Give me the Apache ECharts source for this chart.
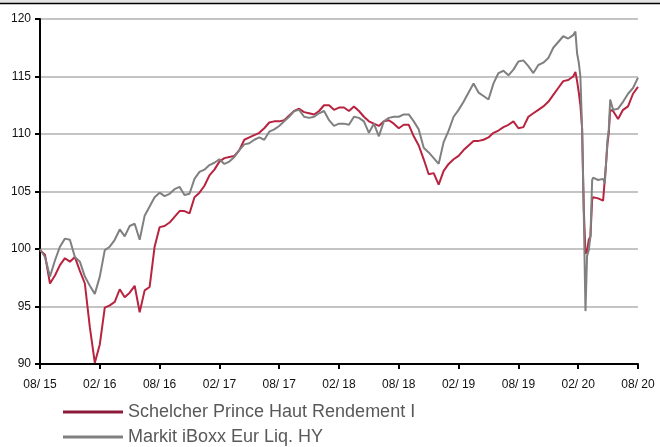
<!DOCTYPE html>
<html>
<head>
<meta charset="utf-8">
<script src="https://cdn.jsdelivr.net/npm/echarts@6/dist/echarts.min.js"></script>
<style>
html,body{margin:0;padding:0;background:#fff;}
#chart{width:660px;height:447px;}
</style>
</head>
<body>
<div id="chart"></div>
<script>
// months elapsed since 08/2015
const months = [
  0,0.5,1,1.5,2,2.5,3,3.5,4,4.5,5,5.5,6,6.5,7,7.5,8,8.5,9,9.5,
  10,10.5,11,11.5,12,12.5,13,13.5,14,14.5,15,15.5,16,16.5,17,17.5,18,18.5,19,19.5,
  20,20.5,21,21.5,22,22.5,23,23.5,24,24.5,25,25.5,26,26.5,27,27.5,28,28.5,29,29.5,
  30,30.5,31,31.5,32,32.5,33,33.5,34,34.5,35,35.5,36,36.5,37,37.5,38,38.5,39,39.5,
  40,40.5,41,41.5,42,42.5,43,43.5,44,44.5,45,45.5,46,46.5,47,47.5,48,48.5,49,49.5,
  50,50.5,51,51.5,52,52.5,53,53.5,
  53.72,53.89,54.06,54.22,54.39,54.56,54.73,54.89,55.06,55.23,55.4,
  55.5,56,56.5,56.67,56.8,56.94,57.07,57.21,57.5,58,58.5,59,59.5,60
];
const schelcher = [
  99.9,99.5,97.0,97.7,98.6,99.2,98.9,99.3,98.1,97.0,
  93.2,90.1,91.7,94.9,95.1,95.4,96.5,95.8,96.2,96.8,
  94.5,96.4,96.7,100.2,101.9,102.0,102.3,102.8,103.3,103.3,
  103.1,104.5,104.9,105.5,106.4,106.9,107.6,107.9,108.0,108.1,
  108.6,109.5,109.7,109.9,110.1,110.5,111.0,111.1,111.1,111.2,
  111.6,112.0,112.2,111.9,111.8,111.7,112.0,112.5,112.5,112.1,
  112.3,112.3,112.0,112.4,112.0,111.5,111.1,110.9,110.7,111.1,
  111.2,110.9,110.5,110.8,110.8,109.8,109.0,107.8,106.5,106.6,
  105.6,106.8,107.4,107.8,108.1,108.6,109.0,109.4,109.4,109.5,
  109.7,110.1,110.3,110.6,110.8,111.1,110.5,110.6,111.5,111.8,
  112.1,112.4,112.8,113.4,114.0,114.6,114.7,115.0,
  115.4,114.6,113.6,112.5,110.5,103.5,99.6,99.8,100.8,101.1,104.3,
  104.5,104.4,104.2,104.1,107.5,109.2,110.1,112.1,112.0,111.3,112.1,112.4,113.5,114.1
];
const iboxx = [
  100.0,99.3,97.6,99.0,100.2,100.9,100.8,99.3,98.9,97.6,
  96.8,96.1,97.6,99.9,100.2,100.8,101.7,101.1,102.0,102.2,
  100.8,102.9,103.7,104.5,104.9,104.6,104.8,105.2,105.4,104.7,
  104.8,106.1,106.7,106.9,107.3,107.5,107.8,107.4,107.6,108.0,
  108.6,109.1,109.2,109.5,109.7,109.5,110.2,110.4,110.7,111.1,
  111.5,112.0,112.1,111.5,111.4,111.5,111.8,112.0,111.2,110.7,
  110.9,110.9,110.8,111.5,111.4,111.1,110.1,110.9,109.8,111.1,
  111.4,111.5,111.5,111.7,111.7,111.1,110.4,108.8,108.4,107.9,
  107.4,109.3,110.3,111.5,112.1,112.8,113.6,114.4,113.6,113.3,
  113.0,114.4,115.3,115.5,115.1,115.6,116.3,116.4,115.9,115.3,
  116.0,116.2,116.6,117.5,118.0,118.5,118.3,118.6,
  118.9,117.0,116.2,115.0,110.5,103.0,94.6,99.4,99.9,101.1,106.0,
  106.2,106.0,106.1,105.7,107.5,109.5,110.4,113.0,112.1,112.2,112.8,113.5,114.0,114.9
];
const xTickLabels = ['08/ 15','02/ 16','08/ 16','02/ 17','08/ 17','02/ 18','08/ 18','02/ 19','08/ 19','02/ 20','08/ 20'];
const seriesNames = ['Schelcher Prince Haut Rendement I','Markit iBoxx Eur Liq. HY'];

const pair = (xs, ys) => xs.map((x, k) => [x, ys[k]]);
const FONT = "'Liberation Sans', Arial, sans-serif";

const legendBase = {
  left: 63,
  icon: 'rect',
  itemWidth: 60,
  itemHeight: 3,
  textStyle: {fontFamily: FONT, fontSize: 18, color: '#595959'},
  padding: 0
};

const chart = echarts.init(document.getElementById('chart'), null, {renderer: 'canvas'});
chart.setOption({
  animation: false,
  backgroundColor: '#ffffff',
  grid: {left: 40, right: 22, top: 19, bottom: 83},
  graphic: [
    {type: 'rect', left: 0, top: 0, shape: {width: 660, height: 3}, style: {fill: '#e4e4e4'}, silent: true},
    {type: 'line', shape: {x1: 0, y1: 3.5, x2: 660, y2: 3.5}, style: {stroke: '#000', lineWidth: 1.5}, silent: true}
  ],
  legend: [
    Object.assign({}, legendBase, {top: 403, data: [{name: seriesNames[0], itemStyle: {color: '#8c1a3a'}}]}),
    Object.assign({}, legendBase, {top: 428, data: [{name: seriesNames[1], itemStyle: {color: '#808080'}}]})
  ],
  xAxis: {
    type: 'value',
    min: 0, max: 60, interval: 6,
    axisLine: {show: true, onZero: false, lineStyle: {color: '#000', width: 2}},
    axisTick: {show: true, length: 5, lineStyle: {color: '#000', width: 2}},
    splitLine: {show: false},
    axisLabel: {
      fontFamily: FONT, fontSize: 12, color: '#111', margin: 15,
      formatter: v => xTickLabels[Math.round(v / 6)]
    }
  },
  yAxis: {
    type: 'value',
    min: 90, max: 120, interval: 5,
    axisLine: {show: true, lineStyle: {color: '#000', width: 2}},
    axisTick: {show: true, length: 5, lineStyle: {color: '#000', width: 2}},
    splitLine: {show: true, lineStyle: {color: '#c4c4c4', width: 2}},
    axisLabel: {fontFamily: FONT, fontSize: 12, color: '#111', margin: 9}
  },
  series: [
    {
      name: seriesNames[0], type: 'line', showSymbol: false,
      data: pair(months, schelcher),
      lineStyle: {color: '#b8233f', width: 2},
      itemStyle: {color: '#b8233f'}, z: 2
    },
    {
      name: seriesNames[1], type: 'line', showSymbol: false,
      data: pair(months, iboxx),
      lineStyle: {color: '#808080', width: 2},
      itemStyle: {color: '#808080'}, z: 3
    }
  ]
});
</script>
</body>
</html>
